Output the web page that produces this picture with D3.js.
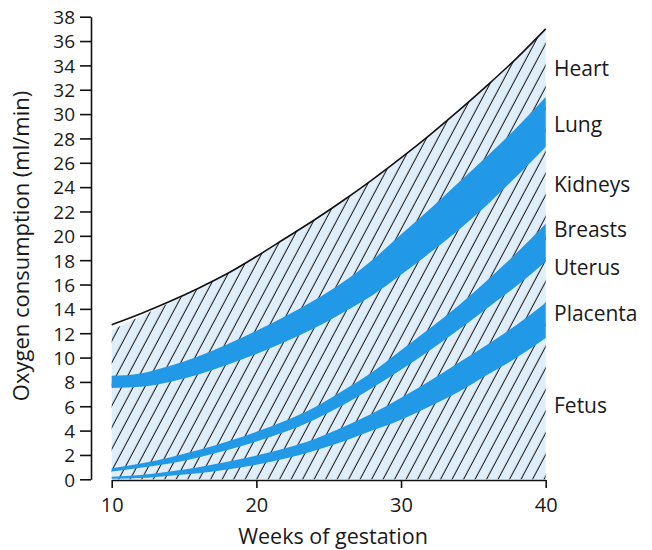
<!DOCTYPE html>
<html>
<head>
<meta charset="utf-8">
<script src="https://cdn.jsdelivr.net/npm/d3@7"></script>
<style>
  html, body { margin: 0; padding: 0; background: #fff; }
  svg { display: block; }
  text { font-family: "Open Sans", "Liberation Sans", sans-serif; fill: #1a1a1a; }
</style>
</head>
<body>
<svg id="chart" width="652" height="550"></svg>
<script>
// ---- data ----
const weeks          = [10, 12, 14, 16, 18, 20, 22, 24, 26, 28, 30, 32, 34, 36, 38, 40];
const heartTop       = [12.7, 13.6, 14.6, 15.7, 16.9, 18.3, 19.8, 21.3, 22.9, 24.6, 26.4, 28.3, 30.3, 32.4, 34.6, 37.0];
const fillTop        = [12.25, 13.4, 14.5, 15.7, 16.9, 18.3, 19.8, 21.3, 22.9, 24.6, 26.4, 28.3, 30.3, 32.4, 34.6, 37.0];
const lungTop        = [8.5, 8.7, 9.3, 10.1, 11.1, 12.2, 13.4, 14.7, 16.2, 18.0, 20.1, 22.2, 24.4, 26.6, 28.9, 31.4];
const lungBottom     = [7.5, 7.6, 8.0, 8.6, 9.4, 10.3, 11.3, 12.4, 13.7, 15.1, 16.8, 18.6, 20.5, 22.6, 24.9, 27.3];
const breastsTop     = [0.9, 1.3, 1.8, 2.4, 3.1, 3.9, 4.8, 5.9, 7.3, 8.8, 10.6, 12.4, 14.3, 16.4, 18.6, 21.0];
const breastsBottom  = [0.65, 0.95, 1.3, 1.8, 2.4, 3.1, 3.9, 4.9, 6.1, 7.5, 9.0, 10.6, 12.3, 14.1, 15.9, 17.9];
const placentaTop    = [0.2, 0.35, 0.65, 1.0, 1.45, 1.95, 2.55, 3.3, 4.3, 5.4, 6.7, 8.1, 9.6, 11.1, 12.7, 14.5];
const placentaBottom = [0.05, 0.1, 0.3, 0.5, 0.8, 1.2, 1.7, 2.35, 3.1, 4.0, 4.9, 6.0, 7.2, 8.6, 10.0, 11.6];

const organs      = ["Heart", "Lung", "Kidneys", "Breasts", "Uterus", "Placenta", "Fetus"];
const organLevels = [33.7, 29.1, 24.2, 20.5, 17.4, 13.6, 6.06];

const xTicks = [10, 20, 30, 40];
const yTicks = [0, 2, 4, 6, 8, 10, 12, 14, 16, 18, 20, 22, 24, 26, 28, 30, 32, 34, 36, 38];

const xTitle = "Weeks of gestation";
const yTitle = "Oxygen consumption (ml/min)";

// ---- drawing ----
const svg = d3.select("#chart");
const x = d3.scaleLinear().domain([10, 40]).range([111.7, 545.7]);
const y = d3.scaleLinear().domain([0, 38]).range([479.3, 16.7]);

const BAND = "#2199e6";
const LIGHT = "#dfeef9";

const defs = svg.append("defs");
const pat = defs.append("pattern")
  .attr("id", "hatch")
  .attr("patternUnits", "userSpaceOnUse")
  .attr("width", 10.15).attr("height", 10)
  .attr("patternTransform", "rotate(28)");
pat.append("rect").attr("width", 10.15).attr("height", 10).attr("fill", LIGHT);
pat.append("line").attr("x1", 5).attr("y1", -1).attr("x2", 5).attr("y2", 11)
  .attr("stroke", "#111").attr("stroke-width", 1);

const idx = d3.range(weeks.length);
const curve = d3.curveMonotoneX;

function band(top, bottom) {
  return d3.area().curve(curve)
    .x(i => x(weeks[i])).y0(i => y(bottom[i])).y1(i => y(top[i]))(idx);
}

// hatched background area
svg.append("path").attr("d", band(fillTop, weeks.map(() => 0)))
  .attr("fill", "url(#hatch)");

// blue bands
[[lungTop, lungBottom], [breastsTop, breastsBottom], [placentaTop, placentaBottom]]
  .forEach(([t, b]) => svg.append("path").attr("d", band(t, b)).attr("fill", BAND));

// top outline
svg.append("path")
  .attr("d", d3.line().curve(curve).x(i => x(weeks[i])).y(i => y(heartTop[i]))(idx))
  .attr("fill", "none").attr("stroke", "#111").attr("stroke-width", 1.6);

// axes
const yAxis = svg.append("g").attr("transform", "translate(91,0)")
  .call(d3.axisLeft(y).tickValues(yTicks).tickSizeInner(11).tickSizeOuter(0).tickPadding(5));
const xAxis = svg.append("g").attr("transform", "translate(0,480)")
  .call(d3.axisBottom(x).tickValues(xTicks).tickSizeInner(8).tickSizeOuter(0).tickPadding(10));

[yAxis, xAxis].forEach(g => {
  g.selectAll("path, line").attr("stroke", "#111").attr("stroke-width", 1.6);
  g.selectAll("text").attr("font-size", 19).attr("font-family", "'Liberation Sans', Arial, sans-serif").attr("fill", "#1a1a1a");
});
yAxis.selectAll("text").attr("dy", "0.36em");
xAxis.selectAll("text").attr("font-size", 20);

// axis titles
svg.append("text").attr("x", 333).attr("y", 544).attr("text-anchor", "middle")
  .attr("font-size", 21.5).text(xTitle);
svg.append("text").attr("transform", "translate(29,246) rotate(-90)").attr("text-anchor", "middle")
  .attr("font-size", 22).text(yTitle);

// organ labels
svg.append("g").selectAll("text").data(organs).join("text")
  .attr("x", 554).attr("y", (d, i) => y(organLevels[i]))
  .attr("dy", "0.35em").attr("font-size", 21).text(d => d);
</script>
</body>
</html>
